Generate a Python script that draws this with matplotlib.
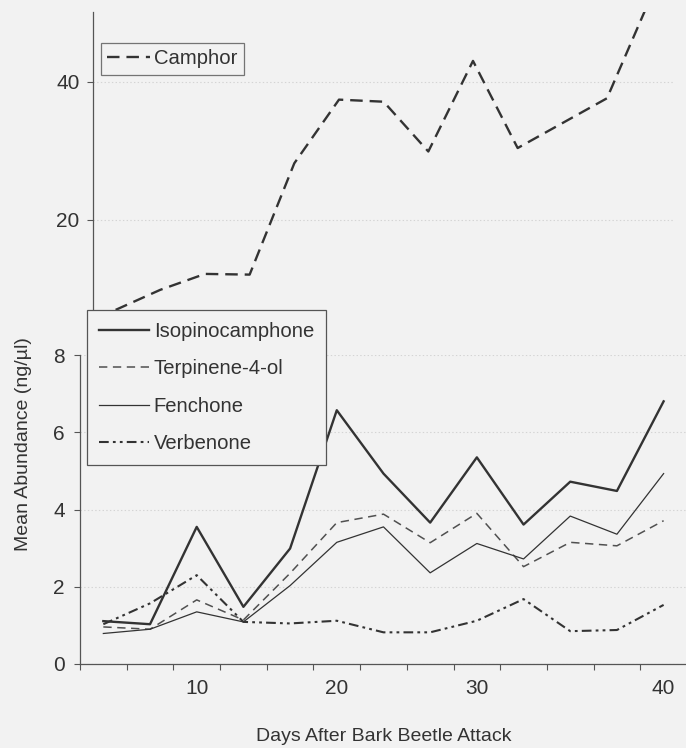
import numpy as np
import matplotlib
matplotlib.use('Agg')
import matplotlib.pyplot as plt

plt.rcParams['font.family'] = ['Liberation Sans', 'DejaVu Sans']
plt.rcParams['lines.scale_dashes'] = False

# sampling days (category axis, evenly spaced like the original)
days = [4, 7, 10, 13, 16, 20, 23, 27, 30, 33, 35, 38, 40]

# mean abundance (ng/ul)
camphor = [7.0, 9.9, 12.2, 12.1, 28.2, 37.4, 37.1, 29.9, 43.0, 30.4, 34.0, 37.6, 52.5]
isopinocamphone = [1.11, 1.03, 3.55, 1.48, 2.99, 6.57, 4.93, 3.66, 5.35, 3.61, 4.72, 4.48, 6.80]
terpinene = [0.96, 0.90, 1.66, 1.14, 2.35, 3.66, 3.88, 3.14, 3.90, 2.52, 3.15, 3.06, 3.71]
fenchone = [0.79, 0.90, 1.35, 1.09, 2.03, 3.15, 3.55, 2.36, 3.12, 2.72, 3.83, 3.36, 4.93]
verbenone = [1.03, 1.57, 2.30, 1.09, 1.05, 1.12, 0.82, 0.82, 1.12, 1.68, 0.85, 0.88, 1.53]

bg = '#f2f2f2'
ink = '#333333'
x = np.arange(len(days))

fig = plt.figure(figsize=(6.86, 7.48), dpi=100, facecolor=bg)

# upper panel: camphor on its own scale
axTop = fig.add_axes([0.136, 0.521, 0.8465, 0.4623], zorder=1)
axTop.set_facecolor('none')
axTop.plot(x, camphor, color=ink, lw=1.7, dashes=(9, 5), label='Camphor')
axTop.set_xlim(-0.5, len(days) - 0.5)
axTop.set_ylim(0, 50)
axTop.set_yticks([20, 40])
axTop.set_xticks([])
for s in ['top', 'right', 'bottom']:
    axTop.spines[s].set_visible(False)
axTop.spines['left'].set_color('#555555')
axTop.spines['left'].set_linewidth(0.9)
axTop.tick_params(axis='y', direction='out', length=4, width=0.8, color='#555555',
                  labelsize=15, labelcolor=ink, pad=6)
axTop.grid(axis='y', color='#d4d4d4', linestyle=':', linewidth=0.8)
axTop.set_axisbelow(True)
legTop = axTop.legend(loc='upper left', bbox_to_anchor=(0.1472, 0.9429), bbox_transform=fig.transFigure,
                      borderaxespad=0, fontsize=14.6, frameon=True, fancybox=False,
                      handlelength=2.1, handletextpad=0.2, borderpad=0.32, labelcolor=ink)
legTop.get_frame().set_edgecolor('#555555')
legTop.get_frame().set_facecolor(bg)
legTop.get_frame().set_linewidth(0.9)

# lower panel: the minor compounds
ax = fig.add_axes([0.1166, 0.1123, 0.8848, 0.4131], zorder=2)
ax.set_facecolor('none')
ax.plot(x, isopinocamphone, color=ink, lw=1.7, label='Isopinocamphone')
ax.plot(x, terpinene, color='#505050', lw=1.1, dashes=(6, 4), label='Terpinene-4-ol')
ax.plot(x, fenchone, color=ink, lw=0.9, label='Fenchone')
ax.plot(x, verbenone, color=ink, lw=1.5, dashes=(7, 3, 2, 3, 2, 3), label='Verbenone')
ax.set_xlim(-0.5, len(days) - 0.5)
ax.set_ylim(0, 8)
ax.set_yticks([0, 2, 4, 6, 8])
ax.set_xticks(np.arange(len(days) + 1) - 0.5)
ax.set_xticklabels([])
lab_pos = [i for i, d in enumerate(days) if d % 10 == 0]
ax.set_xticks(lab_pos, [str(days[i]) for i in lab_pos], minor=True)
for s in ['top', 'right']:
    ax.spines[s].set_visible(False)
for s in ['left', 'bottom']:
    ax.spines[s].set_color('#555555')
    ax.spines[s].set_linewidth(0.9)
ax.tick_params(axis='both', which='major', direction='out', length=4, width=0.8, color='#555555',
               labelsize=15, labelcolor=ink, pad=7)
ax.tick_params(axis='x', which='minor', length=0, labelsize=15, labelcolor=ink, pad=11)
ax.grid(axis='y', color='#d4d4d4', linestyle=':', linewidth=0.8)
ax.set_axisbelow(True)
leg = ax.legend(loc='upper left', bbox_to_anchor=(0.1264, 0.5856), bbox_transform=fig.transFigure,
                borderaxespad=0, fontsize=14.6, frameon=True, fancybox=False,
                handlelength=2.45, handletextpad=0.25, borderpad=0.6, labelspacing=0.9,
                labelcolor=ink)
leg.get_frame().set_edgecolor('#555555')
leg.get_frame().set_facecolor(bg)
leg.get_frame().set_alpha(1)
leg.get_frame().set_linewidth(0.9)

fig.text(0.034, 0.406, 'Mean Abundance (ng/\u00b5l)', rotation=90, ha='center', va='center',
         fontsize=14, color=ink)
fig.text(0.56, 0.015, 'Days After Bark Beetle Attack', ha='center', va='center',
         fontsize=14, color=ink)

fig.savefig('out.png', dpi=100, facecolor=bg)
